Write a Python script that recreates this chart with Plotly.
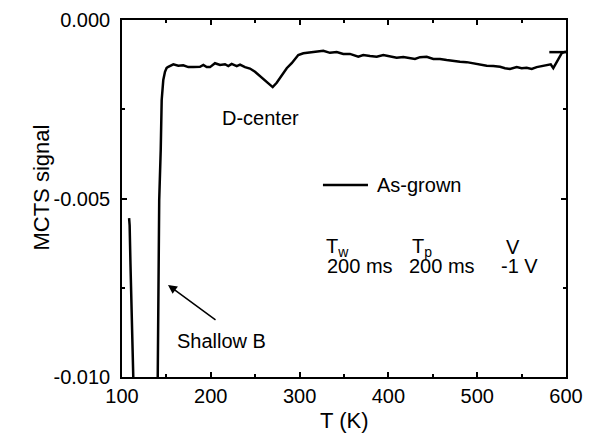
import plotly.graph_objects as go

# Segment near 110 K (Shallow B peak, left flank)
t_left = [108.0, 108.6, 109.5, 110.5, 111.5, 112.8]
s_left = [-0.00555, -0.00575, -0.00680, -0.00800, -0.00910, -0.01010]

# Main segment
t_main = [140.2, 141.9, 143.6, 144.7, 146.5, 148.4, 150.3, 152.1, 157.8, 163.4, 169.0, 174.7,
          180.3, 187.8, 191.6, 195.4, 199.1, 204.7, 210.4, 216.0, 219.7, 223.5, 229.2,
          232.9, 238.5, 244.1, 249.8, 255.4, 261.0, 264.8, 269.7, 274.2, 279.8, 285.5,
          291.1, 298.5, 304.2, 311.7, 319.3, 326.7, 334.2, 341.8, 349.2, 356.7, 366.1,
          371.7, 379.3, 386.8, 394.3, 401.8, 409.3, 416.8, 424.3, 429.9, 435.6, 443.1,
          450.6, 458.1, 465.6, 473.1, 480.6, 488.2, 495.6, 503.1, 510.7, 518.1, 525.7,
          531.3, 536.9, 544.5, 550.1, 555.7, 561.4, 567.0, 572.6, 578.3, 582.8, 585.7,
          589.5, 595.2, 597.7, 600.0]
s_main = [-0.01010, -0.00504, -0.00364, -0.00224, -0.00168, -0.00145, -0.00134, -0.00131,
          -0.00124, -0.00128, -0.00127, -0.00132, -0.00132, -0.00131, -0.00126, -0.00132,
          -0.00132, -0.00121, -0.00126, -0.00124, -0.00129, -0.00123, -0.00129, -0.00125,
          -0.00132, -0.00136, -0.00145, -0.00157, -0.00168, -0.00177, -0.00188, -0.00176,
          -0.00154, -0.00135, -0.00121, -0.00098, -0.00093, -0.00090, -0.00087, -0.00086,
          -0.00092, -0.00090, -0.00095, -0.00095, -0.00103, -0.00098, -0.00101, -0.00103,
          -0.00098, -0.00103, -0.00106, -0.00104, -0.00106, -0.00109, -0.00104, -0.00103,
          -0.00109, -0.00109, -0.00112, -0.00115, -0.00117, -0.00118, -0.00121, -0.00126,
          -0.00128, -0.00129, -0.00131, -0.00135, -0.00137, -0.00132, -0.00135, -0.00134,
          -0.00137, -0.00132, -0.00129, -0.00126, -0.00124, -0.00135, -0.00117, -0.00093,
          -0.00090, -0.00089]

# Short flat piece at the high-T end
t_end = [581.2, 600.0]
s_end = [-0.00090, -0.00090]

x_ticks = [100, 200, 300, 400, 500, 600]
y_ticks = [0.0, -0.005, -0.010]
y_ticktext = ["0.000", "-0.005", "-0.010"]

FONT = "Arial, Liberation Sans, sans-serif"
FS = 20

x_all = t_left + [None] + t_main + [None] + t_end
y_all = s_left + [None] + s_main + [None] + s_end

fig = go.Figure()
fig.add_trace(go.Scatter(x=x_all, y=y_all, mode="lines", name="As-grown",
                         line=dict(color="black", width=2.5), connectgaps=False,
                         showlegend=False))

axis_common = dict(showline=True, linecolor="black", linewidth=1.5, mirror="allticks",
                   ticks="inside", ticklen=5, tickwidth=1.5, tickcolor="black",
                   showgrid=False, zeroline=False, automargin=False,
                   tickfont=dict(family=FONT, size=FS, color="black"),
                   minor=dict(ticks="inside", ticklen=3, tickwidth=1.5, tickcolor="black"))

fig.update_xaxes(range=[100, 600], tickvals=x_ticks, ticktext=[str(v) for v in x_ticks],
                 minor_dtick=50, **axis_common)
fig.update_yaxes(range=[-0.010, 0.0], tickvals=y_ticks, ticktext=y_ticktext,
                 minor_dtick=0.0025, ticklabelstandoff=6, **axis_common)

tf = dict(family=FONT, size=FS, color="black")
ann = [
    dict(text="D-center", x=255.4, y=-0.00274, xref="x", yref="y", showarrow=False, font=tf),
    dict(text="As-grown", x=385.0, y=-0.00462, xref="x", yref="y", showarrow=False,
         xanchor="left", font=tf),
    dict(text="T<sub>w</sub>", x=329.0, y=-0.00636, xref="x", yref="y", showarrow=False,
         xanchor="left", yanchor="middle", borderpad=0, font=tf),
    dict(text="T<sub>p</sub>", x=425.5, y=-0.00636, xref="x", yref="y", showarrow=False,
         xanchor="left", yanchor="middle", borderpad=0, font=tf),
    dict(text="V", x=531.0, y=-0.00636, xref="x", yref="y", showarrow=False,
         xanchor="left", yanchor="middle", borderpad=0, font=tf),
    dict(text="200 ms", x=330.0, y=-0.00689, xref="x", yref="y", showarrow=False,
         xanchor="left", borderpad=0, font=tf),
    dict(text="200 ms", x=422.0, y=-0.00689, xref="x", yref="y", showarrow=False,
         xanchor="left", borderpad=0, font=tf),
    dict(text="-1 V", x=525.7, y=-0.00689, xref="x", yref="y", showarrow=False,
         xanchor="left", borderpad=0, font=tf),
    dict(text="Shallow B", x=159.7, y=-0.00899, xref="x", yref="y", showarrow=False,
         xanchor="left", font=tf),
    dict(text="", x=151.8, y=-0.00742, ax=207.0, ay=-0.00843, xref="x", yref="y",
         axref="x", ayref="y", showarrow=True, arrowhead=2, arrowsize=1.2, arrowwidth=1.5,
         arrowcolor="black"),
    dict(text="MCTS signal", x=-0.214, y=0.532, xref="paper", yref="paper", showarrow=False,
         textangle=-90, font=dict(family=FONT, size=22, color="black")),
    dict(text="T (K)", x=0.5, y=-0.162, xref="paper", yref="paper", showarrow=False,
         font=dict(family=FONT, size=22, color="black")),
]
fig.update_layout(annotations=ann)

fig.add_shape(type="line", x0=326.3, x1=377.0, y0=-0.00462, y1=-0.00462, xref="x", yref="y",
              line=dict(color="black", width=2.5))

# page body has an 8px default margin, so the figure is offset by 8px
fig.update_layout(width=588, height=437, margin=dict(l=114, r=30, t=12, b=68),
                  plot_bgcolor="white", paper_bgcolor="white", showlegend=False)

fig.write_html("out.html")
